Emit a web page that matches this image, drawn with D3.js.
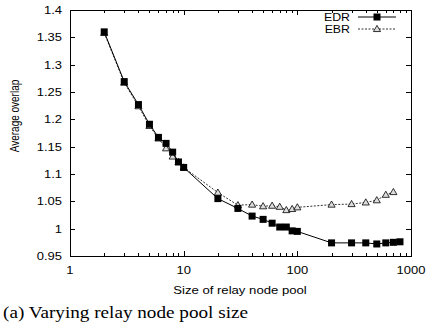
<!DOCTYPE html>
<html>
<head>
<meta charset="utf-8">
<script src="https://cdn.jsdelivr.net/npm/d3@7"></script>
<style>
  body { margin: 0; background: #fff; }
  svg { display: block; }
  text { font-family: "Liberation Sans", Arial, sans-serif; }
  text.caption { font-family: "Liberation Serif", "Times New Roman", serif; }
</style>
</head>
<body>
<div id="chart"></div>
<script>
//* ------------------------------ DATA --------------------------------------------- //
const poolSizes = [2, 3, 4, 5, 6, 7, 8, 9, 10, 20, 30, 40, 50, 60, 70, 80, 90, 100, 200, 300, 400, 500, 600, 700, 800];
const edrOverlap = [1.360, 1.269, 1.227, 1.191, 1.167, 1.156, 1.140, 1.122, 1.112, 1.055, 1.037, 1.023, 1.017, 1.010, 1.003, 1.003, 0.996, 0.995, 0.974, 0.974, 0.974, 0.972, 0.974, 0.975, 0.976];
const ebrSizes = [2, 3, 4, 5, 6, 7, 8, 9, 10, 20, 30, 40, 50, 60, 70, 80, 90, 100, 200, 300, 400, 500, 600, 700];
const ebrOverlap = [1.358, 1.267, 1.224, 1.188, 1.165, 1.147, 1.132, 1.122, 1.112, 1.066, 1.043, 1.044, 1.041, 1.042, 1.040, 1.034, 1.036, 1.039, 1.044, 1.045, 1.048, 1.052, 1.062, 1.067];
const yTicks = [0.95, 1, 1.05, 1.1, 1.15, 1.2, 1.25, 1.3, 1.35, 1.4];
const xTicks = [1, 10, 100, 1000];
//* ------------------------------ END DATA ----------------------------------------- //

const W = 426, H = 324;
const margin = {left: 70, right: 15, top: 10, bottom: 68};
const STRETCH = 1.18; // the figure is a bit wider than tall in the original

const svg = d3.select("#chart").append("svg")
  .attr("width", W)
  .attr("height", H);

function widen(sel, k) {
  // stretch text horizontally like the reference figure
  sel.each(function () {
    const len = this.getComputedTextLength();
    d3.select(this).attr("textLength", len * k).attr("lengthAdjust", "spacingAndGlyphs");
  });
}

const x = d3.scaleLog().domain([1, 1000]).range([margin.left, W - margin.right]);
const y = d3.scaleLinear().domain([0.95, 1.4]).range([H - margin.bottom, margin.top]);

const x0 = x.range()[0], x1 = x.range()[1];
const y0 = y.range()[0], y1 = y.range()[1];

// minor log ticks (inward on bottom and top)
const minor = [];
for (let d = 1; d < 1000; d *= 10) {
  for (let k = 2; k <= 9; k++) minor.push(d * k);
}

const tickG = svg.append("g").attr("stroke", "#000").attr("stroke-width", 1);
minor.forEach(v => {
  const px = Math.round(x(v)) + 0.5;
  tickG.append("line").attr("x1", px).attr("x2", px).attr("y1", y0).attr("y2", y0 - 3);
  tickG.append("line").attr("x1", px).attr("x2", px).attr("y1", y1).attr("y2", y1 + 3);
});
xTicks.forEach(v => {
  const px = Math.round(x(v)) + 0.5;
  tickG.append("line").attr("x1", px).attr("x2", px).attr("y1", y0).attr("y2", y0 - 5);
  tickG.append("line").attr("x1", px).attr("x2", px).attr("y1", y1).attr("y2", y1 + 5);
});
yTicks.forEach(v => {
  const py = Math.round(y(v)) + 0.5;
  tickG.append("line").attr("x1", x0).attr("x2", x0 + 5).attr("y1", py).attr("y2", py);
  tickG.append("line").attr("x1", x1).attr("x2", x1 - 5).attr("y1", py).attr("y2", py);
});

// frame
svg.append("rect")
  .attr("x", x0 + 0.5).attr("y", y1 + 0.5)
  .attr("width", x1 - x0).attr("height", y0 - y1)
  .attr("fill", "none").attr("stroke", "#000").attr("stroke-width", 1);

// tick labels
svg.append("g").selectAll("text").data(yTicks).join("text")
  .attr("x", x0 - 8).attr("y", d => y(d)).attr("dy", "0.35em")
  .attr("text-anchor", "end").attr("font-size", 11)
  .text(d => d3.format("")(d))
  .call(widen, STRETCH);

svg.append("g").selectAll("text").data(xTicks).join("text")
  .attr("x", d => x(d)).attr("y", y0 + 18)
  .attr("text-anchor", "middle").attr("font-size", 11)
  .text(d => d)
  .call(widen, STRETCH);

// axis titles
svg.append("text")
  .attr("x", 240).attr("y", y0 + 38)
  .attr("text-anchor", "middle").attr("font-size", 10.5)
  .text("Size of relay node pool")
  .call(widen, 1.25);

svg.append("text")
  .attr("transform", "translate(19,116) rotate(-90) scale(1,1.2)")
  .attr("text-anchor", "middle").attr("font-size", 10)
  .text("Average overlap");

// caption
svg.append("text")
  .attr("class", "caption")
  .attr("x", 3).attr("y", 318)
  .attr("font-size", 16.5)
  .text("(a) Varying relay node pool size")
  .attr("textLength", 245).attr("lengthAdjust", "spacingAndGlyphs");

// series
const line = d3.line().x(d => x(d[0])).y(d => y(d[1]));
const ebr = ebrSizes.map((s, i) => [s, ebrOverlap[i]]);
const edr = poolSizes.map((s, i) => [s, edrOverlap[i]]);

const tri = d3.symbol().type(d3.symbolTriangle).size(22);

svg.append("path").datum(ebr)
  .attr("d", line).attr("fill", "none").attr("stroke", "#000")
  .attr("stroke-width", 0.8).attr("stroke-dasharray", "2,1.5");

svg.append("g").selectAll("path").data(ebr).join("path")
  .attr("transform", d => `translate(${x(d[0])},${y(d[1]) + 0.5})`)
  .attr("d", tri).attr("fill", "#ddd").attr("stroke", "#000").attr("stroke-width", 0.8);

svg.append("path").datum(edr)
  .attr("d", line).attr("fill", "none").attr("stroke", "#000").attr("stroke-width", 1);

svg.append("g").selectAll("rect").data(edr).join("rect")
  .attr("x", d => x(d[0]) - 3.5).attr("y", d => y(d[1]) - 3.5)
  .attr("width", 7).attr("height", 7).attr("fill", "#000");

// legend
const legend = svg.append("g");
[["EDR", "solid"], ["EBR", "dashed"]].forEach(([name, kind], i) => {
  const ly = 17 + i * 12;
  legend.append("text")
    .attr("x", 350).attr("y", ly).attr("dy", "0.35em")
    .attr("text-anchor", "end").attr("font-size", 11)
    .text(name)
    .call(widen, 1.12);
  legend.append("line")
    .attr("x1", 358).attr("x2", 396).attr("y1", ly).attr("y2", ly)
    .attr("stroke", "#000")
    .attr("stroke-width", kind === "solid" ? 1 : 0.8)
    .attr("stroke-dasharray", kind === "solid" ? null : "2,1.5");
  if (kind === "solid") {
    legend.append("rect").attr("x", 373.5).attr("y", ly - 3.5)
      .attr("width", 7).attr("height", 7).attr("fill", "#000");
  } else {
    legend.append("path").attr("transform", `translate(377,${ly + 0.5})`)
      .attr("d", tri).attr("fill", "#ddd").attr("stroke", "#000").attr("stroke-width", 0.8);
  }
});
</script>
</body>
</html>
